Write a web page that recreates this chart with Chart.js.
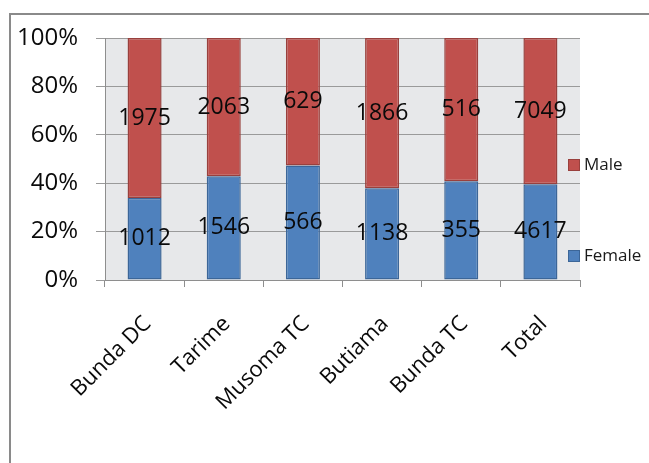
<!DOCTYPE html>
<html>
<head>
<meta charset="utf-8">
<script src="https://cdn.jsdelivr.net/npm/chart.js@4/dist/chart.umd.min.js"></script>
<style>
  html, body { margin: 0; padding: 0; background: #fff; }
  #wrap { position: relative; width: 649px; height: 463px; overflow: hidden; }
  #frame { position: absolute; left: 9px; top: 13px; width: 700px; height: 500px;
           border-top: 2px solid #8a8a8a; border-left: 2px solid #8a8a8a; pointer-events: none; }
  canvas { position: absolute; left: 0; top: 0; }
</style>
</head>
<body>
<div id="wrap">
  <canvas id="c" width="649" height="463"></canvas>
  <div id="frame"></div>
</div>
<script>
// Counts by council, split by sex
const categories = ['Bunda DC', 'Tarime', 'Musoma TC', 'Butiama', 'Bunda TC', 'Total'];
const female = [1012, 1546, 566, 1138, 355, 4617];
const male = [1975, 2063, 629, 1866, 516, 7049];
const yTicks = [0, 20, 40, 60, 80, 100];

const FONT = "'Open Sans', 'DejaVu Sans', sans-serif";

// Share of each group within its column, in percent
const totals = female.map((f, i) => f + male[i]);
const femalePct = female.map((f, i) => f / totals[i] * 100);
const malePct = male.map((m, i) => m / totals[i] * 100);

const plotBg = {
  id: 'plotBg',
  beforeDraw(chart) {
    const { ctx, chartArea: a } = chart;
    ctx.save();
    ctx.fillStyle = '#e7e8ea';
    ctx.fillRect(a.left, a.top, a.right - a.left, a.bottom - a.top);
    ctx.restore();
  }
};

// Raw counts written in the middle of each segment
const countLabels = {
  id: 'countLabels',
  afterDatasetsDraw(chart) {
    const { ctx } = chart;
    ctx.save();
    ctx.font = '23px ' + FONT;
    ctx.fillStyle = '#0a0a0a';
    ctx.textAlign = 'center';
    ctx.textBaseline = 'middle';
    chart.data.datasets.forEach((ds, di) => {
      chart.getDatasetMeta(di).data.forEach((bar, i) => {
        const mid = (bar.y + bar.base) / 2;
        ctx.fillText(String(ds.counts[i]), bar.x, mid);
      });
    });
    ctx.restore();
  }
};

// Legend at the right, Male above Female
const sideLegend = {
  id: 'sideLegend',
  afterDraw(chart) {
    const { ctx } = chart;
    const items = [
      { ds: chart.data.datasets[1], y: 165 },
      { ds: chart.data.datasets[0], y: 256 }
    ];
    ctx.save();
    ctx.font = '17px ' + FONT;
    ctx.textBaseline = 'middle';
    ctx.textAlign = 'left';
    items.forEach(it => {
      ctx.fillStyle = it.ds.backgroundColor;
      ctx.fillRect(568, it.y - 6, 12, 12);
      ctx.strokeStyle = it.ds.borderColor;
      ctx.lineWidth = 1;
      ctx.strokeRect(568.5, it.y - 5.5, 11, 11);
      ctx.fillStyle = '#1a1a1a';
      ctx.fillText(it.ds.label, 584, it.y);
    });
    ctx.restore();
  }
};

new Chart(document.getElementById('c'), {
  type: 'bar',
  data: {
    labels: categories,
    datasets: [
      { label: 'Female', data: femalePct, counts: female,
        backgroundColor: '#4f81bd', borderColor: '#3c6698', borderWidth: 1.5, borderSkipped: false },
      { label: 'Male', data: malePct, counts: male,
        backgroundColor: '#c0504d', borderColor: '#99403d', borderWidth: 1.5, borderSkipped: false }
    ]
  },
  options: {
    responsive: false,
    animation: false,
    devicePixelRatio: 1,
    layout: { padding: { left: 10, top: 38, right: 69, bottom: 0 } },
    datasets: { bar: { categoryPercentage: 1, barPercentage: 0.43 } },
    plugins: { legend: { display: false }, tooltip: { enabled: false } },
    scales: {
      x: {
        stacked: true,
        afterFit(s) { s.height = 183; },
        grid: { drawOnChartArea: false, drawTicks: true, tickLength: 7, color: '#8e8e8e', offset: true },
        border: { color: '#8e8e8e' },
        ticks: { maxRotation: 45, minRotation: 45, padding: 24, labelOffset: 3, color: '#0a0a0a',
                 font: { family: FONT, size: 22 } }
      },
      y: {
        stacked: true,
        min: 0, max: 100,
        afterFit(s) { s.width = 95; },
        afterBuildTicks(s) { s.ticks = yTicks.map(v => ({ value: v })); },
        grid: { color: '#9a9a9a', tickLength: 9 },
        border: { color: '#8e8e8e' },
        ticks: { color: '#0a0a0a', padding: 18, font: { family: FONT, size: 24 },
                 callback: v => v + '%' }
      }
    }
  },
  plugins: [plotBg, countLabels, sideLegend]
});
</script>
</body>
</html>
